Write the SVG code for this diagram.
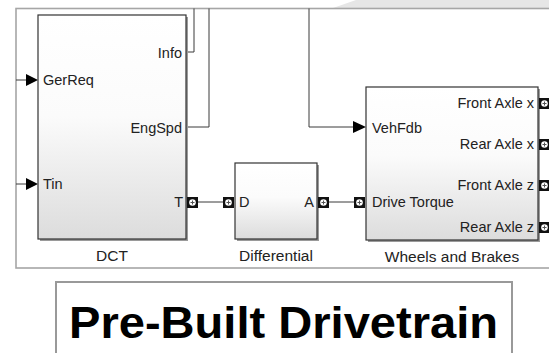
<svg xmlns="http://www.w3.org/2000/svg" width="549" height="353" viewBox="0 0 549 353">
<defs>
<linearGradient id="blk" x1="0" y1="0" x2="0" y2="1">
<stop offset="0" stop-color="#ffffff"/>
<stop offset="0.45" stop-color="#fbfbfb"/>
<stop offset="1" stop-color="#dcdcdc"/>
</linearGradient>
<g id="port">
<rect x="0" y="0" width="11" height="11" fill="#111"/>
<circle cx="5.5" cy="5.5" r="3.3" fill="#fff"/>
<path d="M3.5 5.5h4M5.5 3.5v4" stroke="#555" stroke-width="1"/>
</g>
</defs>
<style>
.frame{fill:none;stroke:#a6a6a6;stroke-width:1.6}
.blk{fill:url(#blk);stroke:#333;stroke-width:1.2}
.shd{fill:#9a9a9a}
.wire{fill:none;stroke:#3a3a3a;stroke-width:1}
.arr{fill:#000}
.lbl{font-family:"Liberation Sans",Arial,sans-serif;font-size:14.5px;fill:#222}
.name{font-family:"Liberation Sans",Arial,sans-serif;font-size:15.5px;fill:#222;text-anchor:middle}
.end{text-anchor:end}
.title{font-family:"Liberation Sans",Arial,sans-serif;font-size:44px;font-weight:bold;fill:#000;text-anchor:middle}
</style>
<rect width="549" height="353" fill="#fff"/>
<polygon points="333,8 356,0 549,0 549,8" fill="#e6e6e6"/>
<rect class="frame" x="16" y="8.5" width="550" height="259.5"/>

<g id="connectors">
<path class="wire" d="M16 80H28"/>
<polygon class="arr" points="26,74 38,80 26,86"/>
<path class="wire" d="M16 184H28"/>
<polygon class="arr" points="26,178 38,184 26,190"/>
<path class="wire" d="M186 52H194V8.5"/>
<path class="wire" d="M186 127H209V8.5"/>
<path class="wire" d="M309 8.5V127H355"/>
<polygon class="arr" points="353,121 366,127 353,133"/>
<path class="wire" d="M198 202H223"/>
<path class="wire" d="M329 202H354"/>
</g>

<g id="dct">
<rect class="shd" x="40" y="17" width="148" height="224"/>
<rect class="blk" x="38" y="15" width="148" height="224"/>
<text class="lbl end" x="182" y="58">Info</text>
<text class="lbl" x="43" y="85">GerReq</text>
<text class="lbl end" x="182" y="133">EngSpd</text>
<text class="lbl" x="43" y="189">Tin</text>
<text class="lbl end" x="183" y="207">T</text>
<use href="#port" x="187" y="197"/>
<text class="name" x="112" y="261">DCT</text>
</g>

<g id="differential">
<rect class="shd" x="237" y="165" width="82" height="76"/>
<rect class="blk" x="235" y="163" width="82" height="76"/>
<use href="#port" x="223" y="197"/>
<use href="#port" x="318" y="197"/>
<text class="lbl" x="239" y="207">D</text>
<text class="lbl end" x="314" y="207">A</text>
<text class="name" x="276" y="261">Differential</text>
</g>

<g id="wheels">
<rect class="shd" x="368" y="89" width="172" height="153"/>
<rect class="blk" x="366" y="87" width="172" height="153"/>
<use href="#port" x="354" y="197"/>
<use href="#port" x="539" y="98"/>
<use href="#port" x="539" y="139"/>
<use href="#port" x="539" y="180"/>
<use href="#port" x="539" y="222"/>
<text class="lbl" x="372" y="133">VehFdb</text>
<text class="lbl" x="372" y="207">Drive Torque</text>
<text class="lbl end" x="534" y="108">Front Axle x</text>
<text class="lbl end" x="534" y="149">Rear Axle x</text>
<text class="lbl end" x="534" y="190">Front Axle z</text>
<text class="lbl end" x="534" y="232">Rear Axle z</text>
<text class="name" x="452" y="262">Wheels and Brakes</text>
</g>

<g id="title">
<rect x="56" y="282" width="456" height="80" fill="#fff" stroke="#999" stroke-width="2"/>
<text class="title" x="283.5" y="338" textLength="429" lengthAdjust="spacingAndGlyphs">Pre-Built Drivetrain</text>
</g>
</svg>
